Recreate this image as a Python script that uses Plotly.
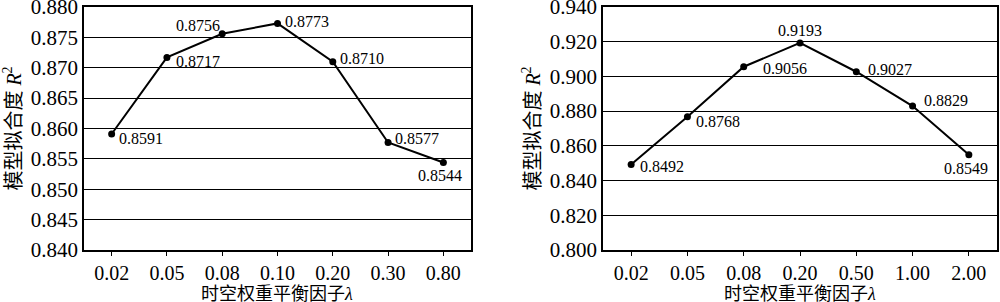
import plotly.graph_objects as go

# Left panel
left_cats = ["0.02", "0.05", "0.08", "0.10", "0.20", "0.30", "0.80"]
left_vals = [0.8591, 0.8717, 0.8756, 0.8773, 0.8710, 0.8577, 0.8544]
left_labels = ["0.8591", "0.8717", "0.8756", "0.8773", "0.8710", "0.8577", "0.8544"]
left_yticks = [0.840, 0.845, 0.850, 0.855, 0.860, 0.865, 0.870, 0.875, 0.880]

# Right panel
right_cats = ["0.02", "0.05", "0.08", "0.20", "0.50", "1.00", "2.00"]
right_vals = [0.8492, 0.8768, 0.9056, 0.9193, 0.9027, 0.8829, 0.8549]
right_labels = ["0.8492", "0.8768", "0.9056", "0.9193", "0.9027", "0.8829", "0.8549"]
right_yticks = [0.800, 0.820, 0.840, 0.860, 0.880, 0.900, 0.920, 0.940]

x_title = "时空权重平衡因子<i>λ</i>"
y_title = "模型拟合度 <i>R</i><sup>2</sup>"

# label placement (xanchor, xshift, yshift)
left_pos = [("left", 5, -5), ("left", 7, -4), ("right", 0, 8), ("left", 5, 2),
            ("left", 5, 3), ("left", 5, 4), ("center", -3, -13)]
right_pos = [("left", 7, -2), ("left", 7, -5), ("left", 17, -2), ("center", 0, 12),
             ("left", 10, 2), ("left", 9, 6), ("center", -3, -14)]

SERIF = "Liberation Serif, Times New Roman, Noto Sans CJK SC, serif"
TITLE_FONT = "Liberation Serif, Noto Sans CJK SC, serif"

LEFT_DOM = [0.084, 0.471]
RIGHT_DOM = [0.603, 0.997]

fig = go.Figure()
fig.add_trace(go.Scatter(x=left_cats, y=left_vals, mode="lines+markers",
                         line=dict(color="black", width=2),
                         marker=dict(color="black", size=7),
                         xaxis="x", yaxis="y", showlegend=False))
fig.add_trace(go.Scatter(x=right_cats, y=right_vals, mode="lines+markers",
                         line=dict(color="black", width=2),
                         marker=dict(color="black", size=7),
                         xaxis="x2", yaxis="y2", showlegend=False))

annotations = []
for cats, vals, labs, pos, xr, yr in [(left_cats, left_vals, left_labels, left_pos, "x", "y"),
                                       (right_cats, right_vals, right_labels, right_pos, "x2", "y2")]:
    for i, (v, l, (xa, xs, ys)) in enumerate(zip(vals, labs, pos)):
        annotations.append(dict(x=i, y=v, xref=xr, yref=yr, text=l, showarrow=False,
                                xanchor=xa, yanchor="middle", xshift=xs, yshift=ys,
                                font=dict(family=SERIF, size=16, color="black")))

# x-axis titles
for dom in (LEFT_DOM, RIGHT_DOM):
    annotations.append(dict(x=(dom[0] + dom[1]) / 2, y=0, xref="paper", yref="paper",
                            text=x_title, showarrow=False, xanchor="center",
                            yanchor="middle", yshift=-44,
                            font=dict(family=TITLE_FONT, size=18, color="black")))

xcommon = dict(type="category", range=[-0.5, 6.5], showline=True, linecolor="black",
               linewidth=1.5, mirror=True, ticks="outside", ticklen=4, tickcolor="black",
               tickfont=dict(family=SERIF, size=20, color="black"), showgrid=False,
               zeroline=False, automargin=False)
ycommon = dict(showline=True, linecolor="black", linewidth=1.5, mirror=True, ticks="",
               showgrid=True, gridcolor="black", gridwidth=1, zeroline=False,
               ticklabeloverflow="allow", automargin=False,
               tickfont=dict(family=SERIF, size=21, color="black"),
               title=dict(text=y_title,
                          font=dict(family=TITLE_FONT, size=20, color="black")))

fig.update_layout(
    width=1000, height=302,
    margin=dict(l=0, r=0, t=7, b=52),
    paper_bgcolor="white", plot_bgcolor="white",
    xaxis=dict(xcommon, domain=LEFT_DOM, anchor="y"),
    yaxis=dict(ycommon, range=[0.840, 0.880], tickvals=left_yticks,
               ticktext=[f"{t:.3f}" for t in left_yticks],
               anchor="x", title_standoff=4),
    xaxis2=dict(xcommon, domain=RIGHT_DOM, anchor="y2"),
    yaxis2=dict(ycommon, range=[0.800, 0.940], tickvals=right_yticks,
                ticktext=[f"{t:.3f}" for t in right_yticks],
                anchor="x2", title_standoff=4),
    annotations=annotations,
)

fig.write_html("out.html")
